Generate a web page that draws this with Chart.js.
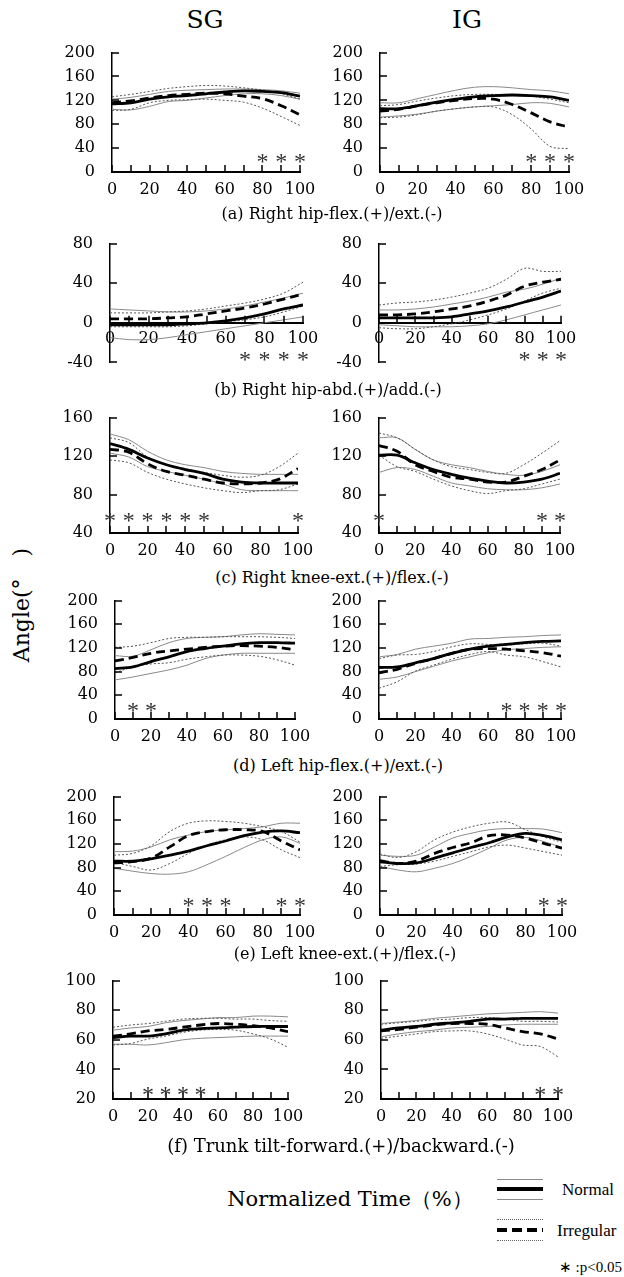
<!DOCTYPE html>
<html><head><meta charset="utf-8">
<script src="https://cdn.jsdelivr.net/npm/chart.js@4.4.1/dist/chart.umd.min.js"></script>
<style>
html,body{margin:0;padding:0;background:#fff;}
#page{position:relative;width:624px;height:1277px;overflow:hidden;background:#fff;font-family:"DejaVu Serif",serif;color:#000;}
.c{position:absolute;white-space:nowrap;transform:translate(-50%,-50%);}
.l{position:absolute;white-space:nowrap;transform:translateY(-50%);}
canvas{position:absolute;}
.ln{position:absolute;left:497px;width:46px;}
</style></head><body><div id="page"></div>
<script>
// ---------- data ----------
const timePct = [0,10,20,30,40,50,60,70,80,90,100];
const xTickLabels = ['0','20','40','60','80','100'];
const yTicksA = [0,40,80,120,160,200];
const yTicksB = [-40,0,40,80];
const yTicksC = [40,80,120,160];
const yTicksD = [0,40,80,120,160,200];
const yTicksE = [0,40,80,120,160,200];
const yTicksF = [20,40,60,80,100];

// (a) Right hip flex/ext
const aSG_normMean = [114,116,122,126,128,131,134,136,135,133,127];
const aSG_normUp   = [122,125,130,135,137,138,139,139,138,136,132];
const aSG_normLo   = [105,104,110,118,120,124,128,131,131,128,122];
const aSG_irrMean  = [116,119,124,128,130,132,131,127,123,111,96];
const aSG_irrUp    = [126,130,135,140,143,145,144,141,137,131,122];
const aSG_irrLo    = [103,105,116,120,121,122,120,117,107,93,78];
const aSG_sig = [80,90,100];
const aIG_normMean = [106,106,111,117,122,126,128,129,128,126,120];
const aIG_normUp   = [116,116,123,130,137,142,143,141,138,136,131];
const aIG_normLo   = [92,94,97,102,106,109,111,113,116,115,109];
const aIG_irrMean  = [102,105,111,116,120,123,122,113,99,84,75];
const aIG_irrUp    = [111,113,119,124,128,130,130,129,127,122,116];
const aIG_irrLo    = [91,92,96,102,106,109,109,96,72,43,39];
const aIG_sig = [80,90,100];

// (b) Right hip abd/add
const bSG_normMean = [-2,-2,-2,-2,-1,0,2,5,9,14,18];
const bSG_normUp   = [14,13,12,11,11,12,14,17,21,25,30];
const bSG_normLo   = [-15,-17,-17,-15,-12,-9,-6,-3,0,3,6];
const bSG_irrMean  = [4,4,4,5,6,9,12,15,19,24,29];
const bSG_irrUp    = [10,10,10,11,12,14,17,20,24,30,41];
const bSG_irrLo    = [-4,-4,-4,-4,-3,-1,1,3,6,11,17];
const bSG_sig = [70,80,90,100];
const bIG_normMean = [5,5,5,5,6,9,12,16,21,26,32];
const bIG_normUp   = [13,13,14,16,19,22,26,31,34,39,45];
const bIG_normLo   = [-2,-3,-4,-4,-4,-3,-1,3,8,13,18];
const bIG_irrMean  = [8,8,9,11,14,17,22,28,37,41,44];
const bIG_irrUp    = [18,20,21,23,26,30,35,44,55,52,52];
const bIG_irrLo    = [-5,-6,-6,-4,-1,3,8,14,22,30,35];
const bIG_sig = [80,90,100];

// (c) Right knee ext/flex
const cSG_normMean = [133,127,118,111,106,102,96,93,92,92,92];
const cSG_normUp   = [143,137,125,116,111,108,104,102,101,101,101];
const cSG_normLo   = [123,119,109,104,100,96,91,85,84,84,84];
const cSG_irrMean  = [127,124,112,104,100,96,92,91,92,96,107];
const cSG_irrUp    = [139,134,119,111,107,103,100,98,100,109,123];
const cSG_irrLo    = [116,113,103,96,91,87,84,82,84,85,91];
const cSG_sig = [0,10,20,30,40,50,100];
const cIG_normMean = [121,121,113,106,101,97,94,92,93,96,102];
const cIG_normUp   = [139,139,127,116,111,108,104,101,100,104,111];
const cIG_normLo   = [103,108,106,99,92,89,86,85,85,87,91];
const cIG_irrMean  = [131,125,111,104,98,96,93,93,99,106,116];
const cIG_irrUp    = [144,139,127,116,109,106,103,102,111,123,136];
const cIG_irrLo    = [121,109,104,96,89,84,81,84,86,91,96];
const cIG_sig = [0,90,100];

// (d) Left hip flex/ext
const dSG_normMean = [85,88,97,105,114,119,123,127,129,129,128];
const dSG_normUp   = [107,106,117,129,136,138,139,142,144,143,142];
const dSG_normLo   = [66,71,77,83,91,102,108,111,111,111,111];
const dSG_irrMean  = [98,104,111,115,118,121,123,124,123,121,117];
const dSG_irrUp    = [121,123,129,136,138,138,139,139,139,138,136];
const dSG_irrLo    = [78,88,93,95,101,105,108,108,106,100,91];
const dSG_sig = [10,20];
const dIG_normMean = [87,88,95,102,111,118,123,126,129,131,132];
const dIG_normUp   = [105,109,118,123,128,135,136,138,139,141,142];
const dIG_normLo   = [67,71,80,89,98,105,112,117,119,121,122];
const dIG_irrMean  = [78,84,94,102,111,118,119,118,115,112,106];
const dIG_irrUp    = [102,108,109,114,122,127,126,125,127,128,123];
const dIG_irrLo    = [52,63,81,91,101,109,114,108,105,97,88];
const dIG_sig = [70,80,90,100];

// (e) Left knee ext/flex
const eSG_normMean = [91,91,95,101,108,117,125,134,140,142,139];
const eSG_normUp   = [107,108,115,127,135,141,144,146,149,155,155];
const eSG_normLo   = [79,74,70,69,73,85,99,114,127,132,121];
const eSG_irrMean  = [88,90,96,115,134,141,144,144,141,125,110];
const eSG_irrUp    = [101,104,117,141,155,159,158,155,149,141,123];
const eSG_irrLo    = [89,82,76,87,104,118,127,132,127,110,97];
const eSG_sig = [40,50,60,90,100];
const eIG_normMean = [90,87,88,96,105,114,122,132,138,134,127];
const eIG_normUp   = [101,99,101,115,130,138,144,146,146,145,139];
const eIG_normLo   = [82,76,73,79,87,99,113,127,131,124,114];
const eIG_irrMean  = [92,87,91,104,114,122,134,135,130,121,113];
const eIG_irrUp    = [103,97,107,127,140,149,155,157,144,132,123];
const eIG_irrLo    = [82,85,86,91,99,107,115,118,113,107,101];
const eIG_sig = [90,100];

// (f) Trunk tilt
const fSG_normMean = [61.5,62.5,62.5,64,66.5,67.5,68,68.5,69,69,69];
const fSG_normUp   = [66.5,68,69,71.5,73,74,75,75,76,76,75.5];
const fSG_normLo   = [57,57,56.5,58,60,61,61.5,62,62.5,62.5,62.5];
const fSG_irrMean  = [62.5,64,66,67,68.5,70,71,70.5,69.5,68,65.5];
const fSG_irrUp    = [68.5,70,71,72.5,74,74.5,74.5,74,74,73,72.5];
const fSG_irrLo    = [56.5,57.5,60.5,62.5,65,66.5,67,66.5,64,60.5,55];
const fSG_sig = [20,30,40,50];
const fIG_normMean = [66.5,68,69,70.5,71.5,72.5,74,74,74.5,74.5,74.5];
const fIG_normUp   = [71,72,73,74.5,75.5,76.5,77.5,78,78.5,79,78];
const fIG_normLo   = [62,64,65.5,66.5,68,68.5,69,70,70.5,70.5,70.5];
const fIG_irrMean  = [66,67,68.5,70,71,71,70.5,68,65.5,64,60.5];
const fIG_irrUp    = [70.5,71.5,72.5,73.5,74,75,75,74,72.5,72.5,72];
const fIG_irrLo    = [61,62.5,64,65.5,66,66,64,60.5,56.5,55.5,48.5];
const fIG_sig = [90,100];

// ---------- layout ----------
const page = document.getElementById('page');
const FONT = '"DejaVu Serif", serif';

const rows = [
  {key:'a', ticks:yTicksA, top:53,  bottom:172, sigY:26, L:[112,300], R:[380,569], cap:'(a) Right hip-flex.(+)/ext.(-)', capX:332, capY:213, capSize:16},
  {key:'b', ticks:yTicksB, top:244, bottom:363, sigY:-32, xAt:0, L:[110,303], R:[379,561], cap:'(b) Right hip-abd.(+)/add.(-)', capX:328, capY:389, capSize:16},
  {key:'c', ticks:yTicksC, top:418, bottom:533, sigY:59, L:[110,298], R:[379,560], cap:'(c) Right knee-ext.(+)/flex.(-)', capX:332, capY:577, capSize:16},
  {key:'d', ticks:yTicksD, top:601, bottom:719, sigY:24, L:[115,295], R:[379,561], cap:'(d) Left hip-flex.(+)/ext.(-)', capX:338, capY:765, capSize:16},
  {key:'e', ticks:yTicksE, top:797, bottom:915, sigY:25, L:[114,300], R:[380,562], cap:'(e) Left knee-ext.(+)/flex.(-)', capX:345, capY:953, capSize:16},
  {key:'f', ticks:yTicksF, top:981, bottom:1099, sigY:27, L:[113,288], R:[381,558], cap:'(f) Trunk tilt-forward.(+)/backward.(-)', capX:341, capY:1145, capSize:18}
];
const series = {
  aSG:[aSG_normMean,aSG_normUp,aSG_normLo,aSG_irrMean,aSG_irrUp,aSG_irrLo,aSG_sig],
  aIG:[aIG_normMean,aIG_normUp,aIG_normLo,aIG_irrMean,aIG_irrUp,aIG_irrLo,aIG_sig],
  bSG:[bSG_normMean,bSG_normUp,bSG_normLo,bSG_irrMean,bSG_irrUp,bSG_irrLo,bSG_sig],
  bIG:[bIG_normMean,bIG_normUp,bIG_normLo,bIG_irrMean,bIG_irrUp,bIG_irrLo,bIG_sig],
  cSG:[cSG_normMean,cSG_normUp,cSG_normLo,cSG_irrMean,cSG_irrUp,cSG_irrLo,cSG_sig],
  cIG:[cIG_normMean,cIG_normUp,cIG_normLo,cIG_irrMean,cIG_irrUp,cIG_irrLo,cIG_sig],
  dSG:[dSG_normMean,dSG_normUp,dSG_normLo,dSG_irrMean,dSG_irrUp,dSG_irrLo,dSG_sig],
  dIG:[dIG_normMean,dIG_normUp,dIG_normLo,dIG_irrMean,dIG_irrUp,dIG_irrLo,dIG_sig],
  eSG:[eSG_normMean,eSG_normUp,eSG_normLo,eSG_irrMean,eSG_irrUp,eSG_irrLo,eSG_sig],
  eIG:[eIG_normMean,eIG_normUp,eIG_normLo,eIG_irrMean,eIG_irrUp,eIG_irrLo,eIG_sig],
  fSG:[fSG_normMean,fSG_normUp,fSG_normLo,fSG_irrMean,fSG_irrUp,fSG_irrLo,fSG_sig],
  fIG:[fIG_normMean,fIG_normUp,fIG_normLo,fIG_irrMean,fIG_irrUp,fIG_irrLo,fIG_sig]
};

const decor = {
  id:'decor',
  afterDraw(chart){
    const o = chart.options.plugins.decor;
    const {ctx, chartArea} = chart;
    const x = chart.scales.x, y = chart.scales.y;
    ctx.save();
    ctx.strokeStyle = '#000';
    ctx.lineWidth = 1.5;
    const axY = o.xAt !== undefined ? y.getPixelForValue(o.xAt) : chartArea.bottom;
    ctx.beginPath();
    x.ticks.forEach(t => {
      const px = Math.round(x.getPixelForValue(t.value));
      ctx.moveTo(px, axY); ctx.lineTo(px, axY - 7);
    });
    y.ticks.forEach(t => {
      const py = Math.round(y.getPixelForValue(t.value));
      ctx.moveTo(chartArea.left, py); ctx.lineTo(chartArea.left + 7, py);
    });
    ctx.stroke();
    ctx.fillStyle = '#333';
    ctx.font = '24px "Liberation Serif"';
    ctx.textAlign = 'center';
    ctx.textBaseline = 'alphabetic';
    o.sig.forEach(v => {
      ctx.fillText('*', x.getPixelForValue(v), y.getPixelForValue(o.sigY) + 13);
    });
    ctx.restore();
  }
};

function lineDs(data, kind){
  const base = {data: timePct.map((t,i)=>({x:t, y:data[i]})), pointRadius:0, tension:0.35, fill:false};
  if (kind==='nm') return Object.assign(base,{borderColor:'#000', borderWidth:2.8, order:1});
  if (kind==='im') return Object.assign(base,{borderColor:'#000', borderWidth:2.8, borderDash:[9,5], order:0});
  if (kind==='nsd') return Object.assign(base,{borderColor:'#8a8a8a', borderWidth:1, order:3});
  return Object.assign(base,{borderColor:'#555', borderWidth:1, borderDash:[2,2], order:2});
}

function makePanel(row, side){
  const [nm,nu,nl,im,iu,il,sig] = series[row.key+side];
  const [left,right] = side==='SG' ? row.L : row.R;
  const hasXAt = row.xAt !== undefined;
  const padT = 12, padR = 26, Wy = 60, Hx = hasXAt ? 0 : 34, padB = hasXAt ? 14 : 0;
  let w = (right-left) + Wy + padR;
  let h = (row.bottom-row.top) + padT + Hx + padB;
  let cl = left-Wy, ct = row.top-padT;
  const cv = document.createElement('canvas');
  cv.width = w; cv.height = h;
  cv.style.left = cl+'px'; cv.style.top = ct+'px';
  cv.style.width = w+'px'; cv.style.height = h+'px';
  page.appendChild(cv);
  const yt = row.ticks;
  const chart = new Chart(cv.getContext('2d'), {
    type:'line',
    data:{datasets:[lineDs(nu,'nsd'),lineDs(nl,'nsd'),lineDs(iu,'isd'),lineDs(il,'isd'),lineDs(nm,'nm'),lineDs(im,'im')]},
    options:{
      responsive:false, maintainAspectRatio:false, animation:false, devicePixelRatio:1,
      layout:{padding:{top:padT,right:padR,bottom:padB,left:0}},
      plugins:{legend:{display:false}, tooltip:{enabled:false}, decor:{sig:sig, sigY:row.sigY, xAt:row.xAt}},
      scales:{
        x:{type:'linear', min:0, max:100, position: hasXAt ? {y: row.xAt} : 'bottom',
           ticks:{stepSize:10, autoSkip:false, maxRotation:0, minRotation:0, padding: hasXAt ? 6 : 8,
                  color:'#000', font:{family:FONT, size:16},
                  callback:v => xTickLabels.includes(String(v)) ? String(v) : ''},
           grid:{display:false, drawTicks:false},
           border:{display:true, color:'#000', width:2},
           afterFit: s => { if (!hasXAt) s.height = Hx; }},
        y:{type:'linear', min:yt[0], max:yt[yt.length-1], position:'left',
           ticks:{stepSize:yt[1]-yt[0], autoSkip:false, padding:17, color:'#000', font:{family:FONT, size:16}},
           grid:{display:false, drawTicks:false},
           border:{display:true, color:'#000', width:1.5},
           afterFit: s => { s.width = Wy; }}
      }
    },
    plugins:[decor]
  });
  // align the library's chart area onto the target plot rectangle
  for (let k=0; k<5; k++){
    const ca = chart.chartArea;
    const dl = (cl + ca.left) - left, dt = (ct + ca.top) - row.top;
    const dr = right - (cl + ca.right), db = row.bottom - (ct + ca.bottom);
    if (Math.abs(dl)<0.5 && Math.abs(dt)<0.5 && Math.abs(dr)<0.5 && Math.abs(db)<0.5) break;
    cl -= dl; ct -= dt; w = Math.round(w + dl + dr); h = Math.round(h + dt + db);
    cv.style.left = cl+'px'; cv.style.top = ct+'px';
    chart.resize(w, h);
    cv.style.width = w+'px'; cv.style.height = h+'px';
  }
}

function addText(txt, x, y, size, cls, extra){
  const d = document.createElement('div');
  d.className = cls || 'c';
  d.textContent = txt;
  d.style.left = x+'px'; d.style.top = y+'px'; d.style.fontSize = size+'px';
  if (extra) Object.assign(d.style, extra);
  page.appendChild(d);
  return d;
}

addText('SG', 205, 19, 25);
addText('IG', 467, 19, 25);
rows.forEach(r => {
  makePanel(r,'SG'); makePanel(r,'IG');
  addText(r.cap, r.capX, r.capY, r.capSize);
});
addText('Angle(°\u3000)', 22, 605, 22, 'c', {transform:'translate(-50%,-50%) rotate(-90deg)'});
addText('Normalized Time（%）', 350, 1199, 21);

// legend
function lineEl(top, h, style){
  const d = document.createElement('div');
  d.className = 'ln';
  d.style.top = top+'px'; d.style.height = h+'px';
  Object.assign(d.style, style);
  page.appendChild(d);
}
lineEl(1179, 0, {borderTop:'1px solid #8a8a8a'});
lineEl(1187, 4, {background:'#000'});
lineEl(1199, 0, {borderTop:'1px solid #8a8a8a'});
lineEl(1219, 0, {borderTop:'1px dotted #666'});
lineEl(1228, 4, {background:'repeating-linear-gradient(90deg,#000 0 10px,transparent 10px 15px)'});
lineEl(1240, 0, {borderTop:'1px dotted #666'});
addText('Normal', 562, 1190, 17, 'l', {fontFamily:'"Liberation Serif", serif'});
addText('Irregular', 557, 1231, 17, 'l', {fontFamily:'"Liberation Serif", serif'});
addText('∗ :p<0.05', 0, 1267, 15, 'l', {fontFamily:'"Liberation Serif", serif', left:'auto', right:'2px'});
</script></body></html>
